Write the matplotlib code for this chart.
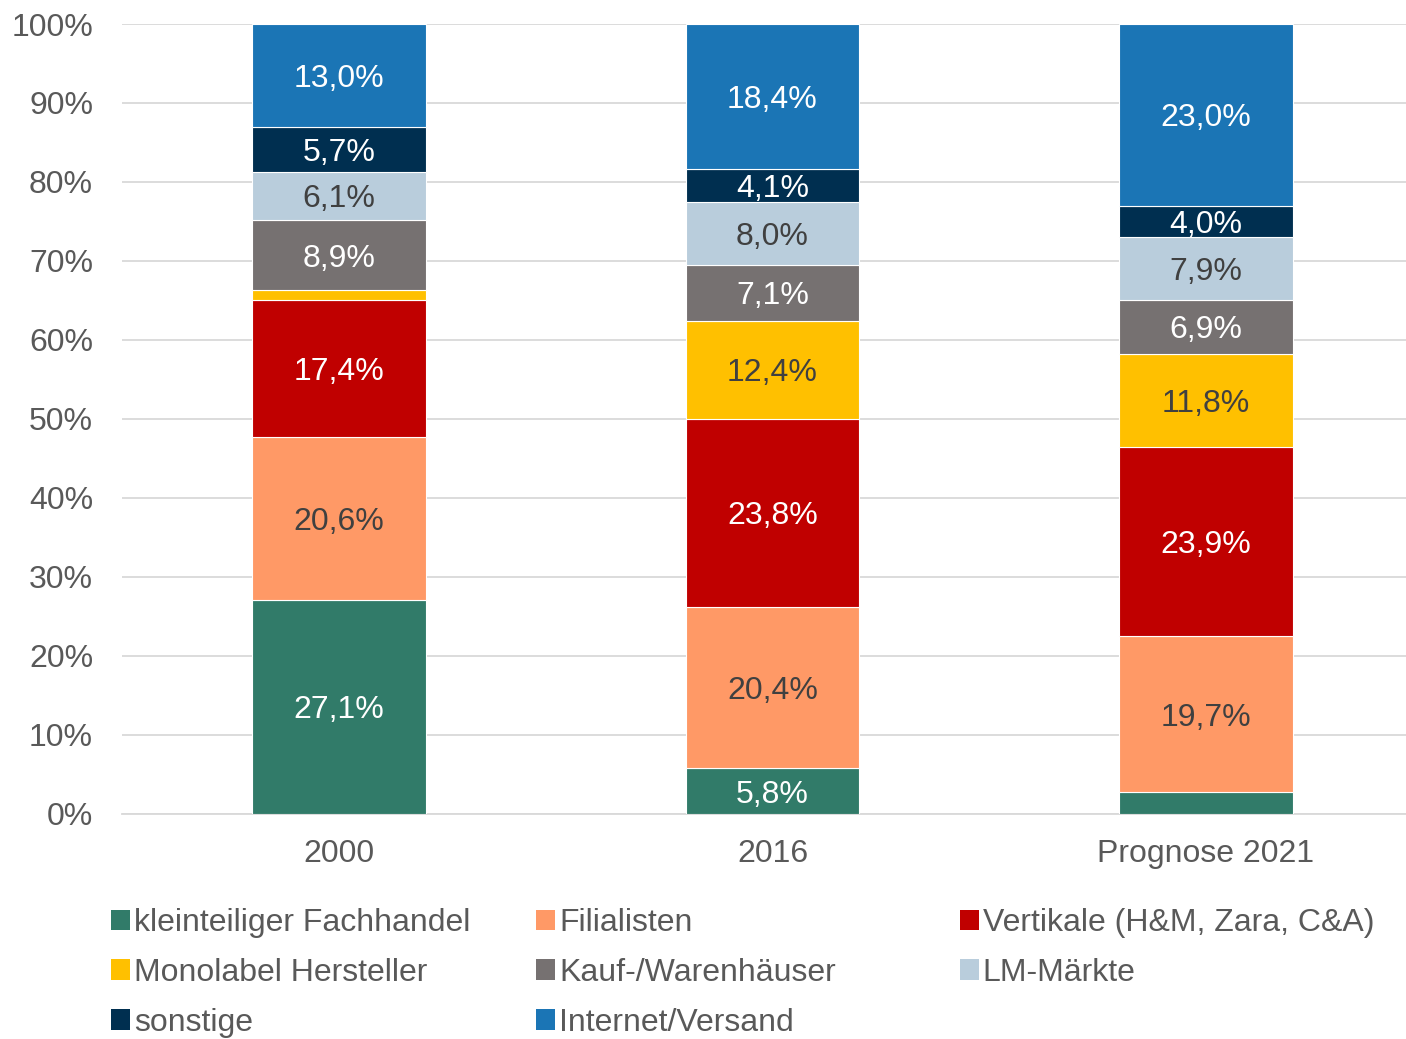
import matplotlib
matplotlib.use("Agg")
import matplotlib.pyplot as plt
import numpy as np
from matplotlib.patches import Patch

plt.rcParams['font.family'] = ['Liberation Sans', 'DejaVu Sans']

categories = ["2000", "2016", "Prognose 2021"]
series_names = ["kleinteiliger Fachhandel", "Filialisten", "Vertikale (H&M, Zara, C&A)",
                "Monolabel Hersteller", "Kauf-/Warenhäuser", "LM-Märkte",
                "sonstige", "Internet/Versand"]
kleinteilig = [27.1, 5.8, 2.8]
filialisten = [20.6, 20.4, 19.7]
vertikale = [17.4, 23.8, 23.9]
monolabel = [1.2, 12.4, 11.8]
kaufhaus = [8.9, 7.1, 6.9]
lm_maerkte = [6.1, 8.0, 7.9]
sonstige = [5.7, 4.1, 4.0]
internet = [13.0, 18.4, 23.0]
series = [kleinteilig, filialisten, vertikale, monolabel, kaufhaus, lm_maerkte, sonstige, internet]
colors = ["#317B69", "#FF9966", "#C00000", "#FFC000", "#767171", "#B9CDDC", "#002F50", "#1B75B5"]
label_colors = ["white", "#404040", "white", "#404040", "white", "#404040", "white", "white"]

FS = 23
fig = plt.figure(figsize=(14.06, 10.39), dpi=100)
ax = fig.add_axes([0.0869, 0.2166, 0.925, 0.7603])

x = np.arange(len(categories))
bottom = np.zeros(len(categories))
width = 0.40
for vals, col, lc in zip(series, colors, label_colors):
    vals = np.array(vals)
    ax.bar(x, vals, width, bottom=bottom, color=col, edgecolor="white", linewidth=0.8, zorder=3)
    for xi, v, b in zip(x, vals, bottom):
        if v >= 3.5:
            ax.text(xi, b + v / 2, f"{v:.1f}%".replace(".", ","), ha="center", va="center_baseline",
                    color=lc, fontsize=FS, zorder=4)
    bottom += vals

ax.set_xlim(-0.5, 2.5)
ax.set_ylim(0, 100)
ax.set_yticks(np.arange(0, 101, 10))
ax.set_yticklabels([f"{v}%" for v in range(0, 101, 10)])
ax.set_xticks(x)
ax.set_xticklabels(categories)
ax.tick_params(axis="both", length=0, labelsize=FS, colors="#595959")
ax.tick_params(axis="y", pad=21)
ax.tick_params(axis="x", pad=18)
ax.grid(axis="y", color="#D9D9D9", linewidth=1.3, zorder=0)
for s in ["top", "right", "left"]:
    ax.spines[s].set_visible(False)
ax.spines["bottom"].set_color("#D9D9D9")
ax.spines["bottom"].set_linewidth(1.3)

# legend: three columns placed at fixed positions, row-major order
columns = [[0, 3, 6], [1, 4, 7], [2, 5]]
col_x = [0.0791, 0.3812, 0.6825]
for cx, idxs in zip(col_x, columns):
    handles = [Patch(facecolor=colors[i], edgecolor="none") for i in idxs]
    labels = [series_names[i] for i in idxs]
    fig.legend(handles, labels, loc="upper left", bbox_to_anchor=(cx, 0.126),
               frameon=False, fontsize=FS, labelcolor="#595959",
               handlelength=0.6, handleheight=0.6, handletextpad=0.12,
               labelspacing=0.62, borderaxespad=0, borderpad=0)

fig.savefig("out.png", dpi=100)
